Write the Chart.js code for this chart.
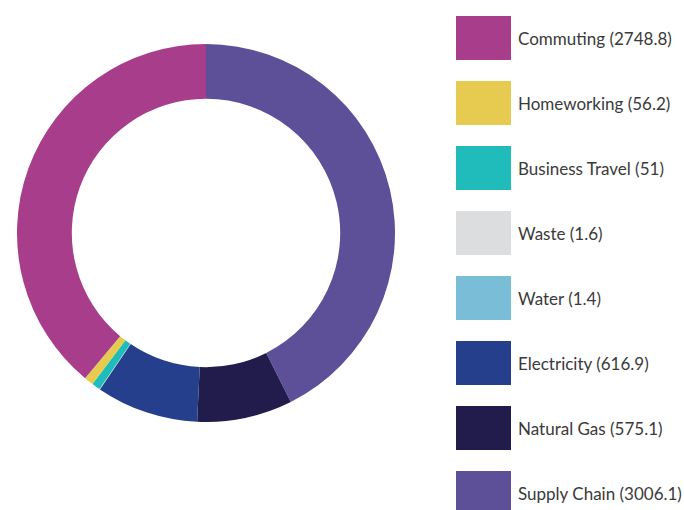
<!DOCTYPE html>
<html>
<head>
<meta charset="utf-8">
<script src="https://cdn.jsdelivr.net/npm/chart.js@4/dist/chart.umd.min.js"></script>
<style>
  html, body { margin: 0; padding: 0; background: #fff; }
  body { width: 684px; height: 510px; position: relative; overflow: hidden; font-family: Lato, "Noto Sans", sans-serif; }
  #chartWrap { position: absolute; left: 17px; top: 44px; width: 378px; height: 378px; }
  #legend { position: absolute; left: 456px; top: 16px; margin: 0; padding: 0; list-style: none; }
  #legend li { display: flex; align-items: center; height: 44px; margin-bottom: 21px; }
  #legend .box { width: 55px; height: 44px; margin-right: 7px; flex: none; }
  #legend .txt { font-size: 17px; color: #3a3a3a; white-space: nowrap; }
</style>
</head>
<body>
<div id="chartWrap"><canvas id="donut"></canvas></div>
<ul id="legend"></ul>
<script>
// legend order (top to bottom)
const categories = ["Commuting", "Homeworking", "Business Travel", "Waste", "Water", "Electricity", "Natural Gas", "Supply Chain"];
const values = [2748.8, 56.2, 51, 1.6, 1.4, 616.9, 575.1, 3006.1];
const colors = ["#a83d8c", "#e6cb50", "#20bcbb", "#dcdddf", "#79bdd6", "#253f8c", "#221c4c", "#5e4f99"];

// the ring runs clockwise from the top starting with Supply Chain, so feed it reversed
const ringLabels = categories.slice().reverse();
const ringValues = values.slice().reverse();
const ringColors = colors.slice().reverse();

const legend = document.getElementById("legend");
categories.forEach((cat, i) => {
  legend.innerHTML += `<li><span class="box" style="background:${colors[i]}"></span><span class="txt">${cat} (${values[i]})</span></li>`;
});

new Chart(document.getElementById("donut"), {
  type: 'doughnut',
  data: {
    labels: ringLabels,
    datasets: [{
      data: ringValues,
      backgroundColor: ringColors,
      borderWidth: 0
    }]
  },
  options: {
    responsive: true,
    maintainAspectRatio: false,
    animation: false,
    cutout: '71%',
    layout: { padding: 0 },
    plugins: {
      legend: { display: false },
      tooltip: { enabled: false }
    }
  }
});
</script>
</body>
</html>
